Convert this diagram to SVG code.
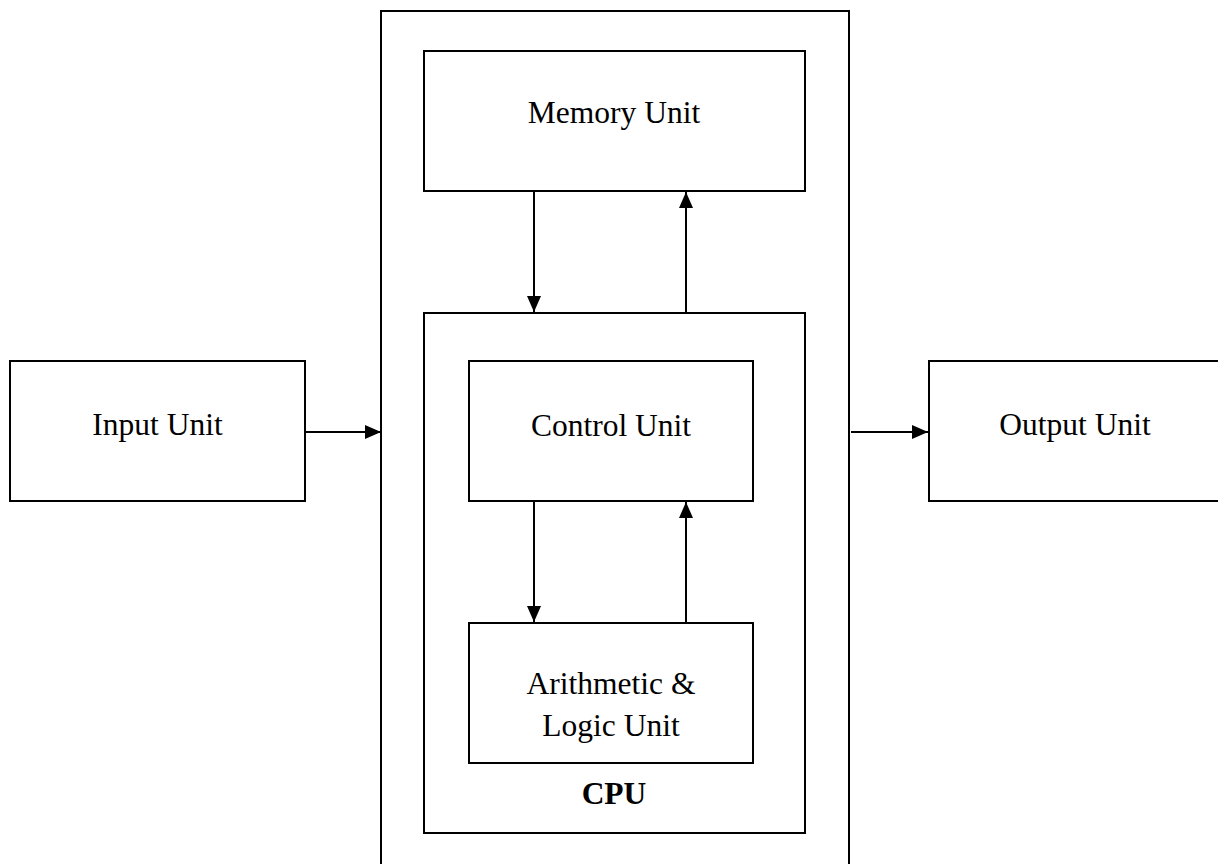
<svg xmlns="http://www.w3.org/2000/svg" width="1218" height="864" viewBox="0 0 1218 864">
<style>
.box{fill:none;stroke:#000;stroke-width:2}
.lbl{font-family:"Liberation Serif","Times New Roman",serif;font-size:31.5px;fill:#000;text-anchor:middle}
.bold{font-weight:bold}
.conn{stroke:#000;stroke-width:2;fill:none;marker-end:url(#ah)}
</style>
<defs>
<marker id="ah" viewBox="0 0 16 14" refX="16" refY="7" markerWidth="16" markerHeight="14" markerUnits="userSpaceOnUse" orient="auto">
<path d="M0,0 L16,7 L0,14 Z" fill="#000"/>
</marker>
</defs>
<rect width="1218" height="864" fill="#fff"/>
<g id="cpu-outer"><rect class="box" x="381" y="11" width="468" height="870"/></g>
<g id="memory-unit"><rect class="box" x="424" y="51" width="381" height="140"/><text class="lbl" x="614" y="123">Memory Unit</text></g>
<g id="cpu"><rect class="box" x="424" y="313" width="381" height="520"/><text class="lbl bold" x="614" y="804">CPU</text></g>
<g id="control-unit"><rect class="box" x="469" y="361" width="284" height="140"/><text class="lbl" x="611" y="436">Control Unit</text></g>
<g id="alu"><rect class="box" x="469" y="623" width="284" height="140"/><text class="lbl" x="611" y="694">Arithmetic &amp;</text><text class="lbl" x="611" y="736">Logic Unit</text></g>
<g id="input-unit"><rect class="box" x="10" y="361" width="295" height="140"/><text class="lbl" x="157.5" y="435">Input Unit</text></g>
<g id="output-unit"><rect class="box" x="929" y="361" width="300" height="140"/><text class="lbl" x="1075" y="435">Output Unit</text></g>
<g id="connectors">
<line class="conn" x1="305" y1="432" x2="381" y2="432"/>
<line class="conn" x1="851" y1="432" x2="928" y2="432"/>
<line class="conn" x1="534" y1="191" x2="534" y2="312"/>
<line class="conn" x1="686" y1="313" x2="686" y2="192"/>
<line class="conn" x1="534" y1="501" x2="534" y2="622"/>
<line class="conn" x1="686" y1="623" x2="686" y2="502"/>
</g>
</svg>
